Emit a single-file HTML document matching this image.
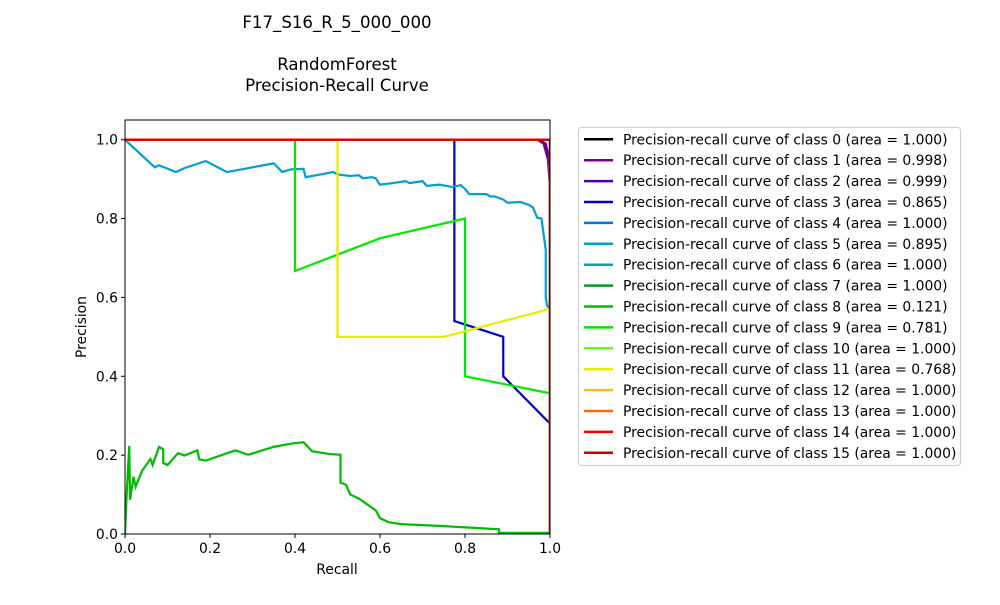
<!DOCTYPE html>
<html><head><meta charset="utf-8">
<style>
body{margin:0;background:#fff;}
svg{font-family:"DejaVu Sans","Liberation Sans",sans-serif;}
</style></head>
<body>
<svg id="chart" width="1000" height="600" viewBox="0 0 1000 600" xmlns="http://www.w3.org/2000/svg">
<rect width="1000" height="600" fill="#fff"/>
<text x="337" y="28" font-size="16.6" text-anchor="middle">F17_S16_R_5_000_000</text>
<text x="337" y="70" font-size="16.6" text-anchor="middle">RandomForest</text>
<text x="337" y="91" font-size="16.6" text-anchor="middle">Precision-Recall Curve</text>
<defs><clipPath id="pc"><rect x="125" y="120" width="425" height="414"/></clipPath></defs>
<g id="series" clip-path="url(#pc)"></g>
<rect x="125" y="120" width="425" height="414" fill="none" stroke="#000" stroke-width="1"/>
<g id="axes"></g>
<text x="337" y="574" font-size="13.9" text-anchor="middle">Recall</text>
<text x="86" y="327" font-size="13.9" text-anchor="middle" transform="rotate(-90 86 327)">Precision</text>
<rect x="578.5" y="127.5" width="382" height="338" rx="3" fill="#fff" stroke="#ccc"/>
<g id="legend"></g>
</svg>
<script>
const classNames = ["0","1","2","3","4","5","6","7","8","9","10","11","12","13","14","15"];
const areas = ["1.000","0.998","0.999","0.865","1.000","0.895","1.000","1.000","0.121","0.781","1.000","0.768","1.000","1.000","1.000","1.000"];
const colors = ["#000000","#780088","#4f00a5","#0000cc","#0077dd","#00a0d0","#00a8a0","#009a20","#00bb00","#00e800","#66ff00","#e6ee00","#ffc000","#ff6a00","#ee0000","#cc0000"];
const perfectR = [0,1,1];
const perfectP = [1,1,0];
const c1R = [0,0.97,0.985,0.995,1,1];
const c1P = [1,1,0.99,0.95,0.88,0];
const c2R = [0,0.975,0.99,0.998,1,1];
const c2P = [1,1,0.99,0.95,0.85,0];
const c3R = [0,0.775,0.775,0.89,0.89,1,1];
const c3P = [1,1,0.54,0.5,0.4,0.28,0];
const c5R = [0,0.07,0.08,0.12,0.14,0.19,0.24,0.35,0.37,0.39,0.42,0.425,0.49,0.5,0.53,0.55,0.56,0.58,0.59,0.6,0.63,0.66,0.67,0.7,0.71,0.74,0.77,0.79,0.8,0.81,0.85,0.86,0.87,0.89,0.9,0.93,0.95,0.96,0.97,0.98,0.985,0.99,0.99,0.993,1,1];
const c5P = [1,0.93,0.935,0.918,0.928,0.946,0.918,0.94,0.918,0.925,0.926,0.905,0.918,0.912,0.908,0.91,0.902,0.905,0.902,0.886,0.89,0.895,0.89,0.895,0.883,0.886,0.88,0.885,0.875,0.862,0.862,0.856,0.856,0.848,0.84,0.842,0.835,0.828,0.802,0.8,0.76,0.72,0.6,0.58,0.57,0];
const c8R = [0,0.004,0.01,0.012,0.02,0.025,0.04,0.06,0.065,0.08,0.09,0.09,0.1,0.125,0.14,0.17,0.175,0.19,0.24,0.26,0.29,0.35,0.39,0.42,0.44,0.48,0.507,0.507,0.52,0.53,0.55,0.57,0.59,0.6,0.62,0.65,0.75,0.88,0.88,1];
const c8P = [0,0.1,0.223,0.087,0.145,0.12,0.16,0.19,0.175,0.221,0.215,0.18,0.175,0.205,0.199,0.212,0.189,0.186,0.205,0.212,0.201,0.221,0.229,0.233,0.21,0.203,0.201,0.13,0.125,0.1,0.09,0.075,0.06,0.04,0.03,0.025,0.02,0.012,0.003,0.003];
const c9R = [0,0.4,0.4,0.6,0.8,0.8,1,1];
const c9P = [1,1,0.667,0.75,0.8,0.4,0.357,0];
const c11R = [0,0.5,0.5,0.75,1,1];
const c11P = [1,1,0.5,0.5,0.571,0];
const xTicks = [0,0.2,0.4,0.6,0.8,1.0];
const xTickLabels = ["0.0","0.2","0.4","0.6","0.8","1.0"];
const yTicks = [0,0.2,0.4,0.6,0.8,1.0];
const yTickLabels = ["0.0","0.2","0.4","0.6","0.8","1.0"];

const seriesR = [perfectR,c1R,c2R,c3R,perfectR,c5R,perfectR,perfectR,c8R,c9R,perfectR,c11R,perfectR,perfectR,perfectR,perfectR];
const seriesP = [perfectP,c1P,c2P,c3P,perfectP,c5P,perfectP,perfectP,c8P,c9P,perfectP,c11P,perfectP,perfectP,perfectP,perfectP];

const X0=125,X1=550,Y0=534,Ytop=120,YMAX=1.05;
function sx(v){return X0+(X1-X0)*v;}
function sy(v){return Y0-(Y0-Ytop)*v/YMAX;}
const NS="http://www.w3.org/2000/svg";
function mk(tag,attrs,parent){const e=document.createElementNS(NS,tag);for(const k in attrs)e.setAttribute(k,attrs[k]);parent.appendChild(e);return e;}

const g=document.getElementById('series');
for(let i=0;i<classNames.length;i++){
  const R=seriesR[i],P=seriesP[i];
  const pts=R.map((r,j)=>sx(r).toFixed(2)+","+sy(P[j]).toFixed(2)).join(" ");
  const pl=mk('polyline',{points:pts,fill:'none',stroke:colors[i],'stroke-width':2.2,'stroke-linejoin':'miter'},g);
  
  
}

const ax=document.getElementById('axes');
xTicks.forEach((t,i)=>{
  const l=mk('line',{x1:sx(t),x2:sx(t),y1:Y0,y2:Y0+4,stroke:'#000'},ax);
  
  
  const tx=mk('text',{x:sx(t),y:Y0+19,'font-size':13.9,'text-anchor':'middle'},ax);
  tx.textContent=xTickLabels[i];
  
  
});
yTicks.forEach((t,i)=>{
  const l=mk('line',{x1:X0-4,x2:X0,y1:sy(t),y2:sy(t),stroke:'#000'},ax);
  
  
  const tx=mk('text',{x:X0-7,y:sy(t)+5,'font-size':13.9,'text-anchor':'end'},ax);
  tx.textContent=yTickLabels[i];
  
  
});

const lg=document.getElementById('legend');
classNames.forEach((c,i)=>{
  const y=139.3+i*20.9;
  const l=mk('line',{x1:584,x2:613,y1:y,y2:y,stroke:colors[i],'stroke-width':2.5},lg);
  
  
  const tx=mk('text',{x:623,y:y+5,'font-size':13.9},lg);
  tx.textContent='Precision-recall curve of class '+c+' (area = '+areas[i]+')';
  
  
});
</script>
</body></html>
